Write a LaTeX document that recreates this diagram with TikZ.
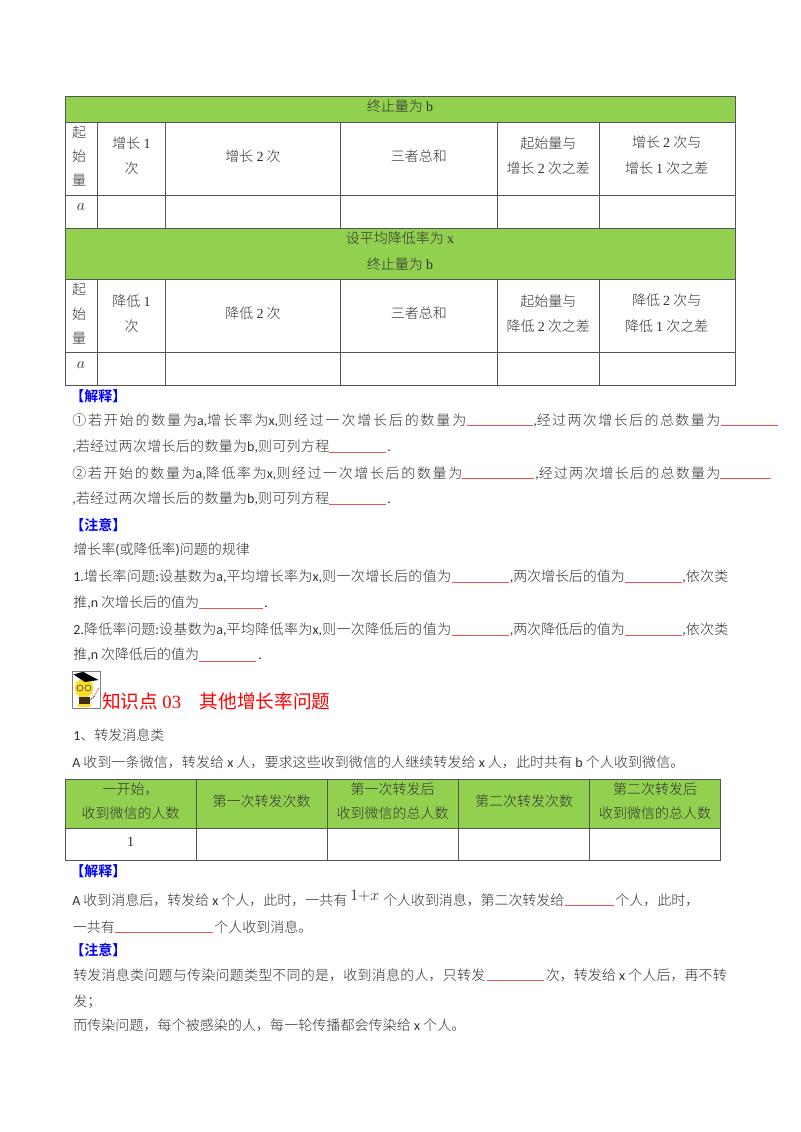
\documentclass[tikz,border=0pt]{standalone}
\usepackage{fontspec}
\setmainfont{Noto Sans CJK SC}[UprightFont=* Light,BoldFont=* Bold]
\newfontfamily\regfont{Noto Sans CJK SC}
\newfontfamily\califont{Carlito}
\newfontfamily\timesfont{Liberation Serif}
\XeTeXlinebreaklocale "zh"
\XeTeXlinebreakskip=0pt plus 4pt minus .3pt
\newcommand{\cb}[1]{{\califont #1}}
\newcommand{\tm}[1]{{\timesfont #1}}
\newcommand{\fit}[2]{\parbox[b]{\dimexpr #1pt*3/4\relax}{\tolerance=9999\hbadness=10000\parfillskip=0pt\relax #2}}
\definecolor{headgreen}{RGB}{146,208,80}
\definecolor{gridgray}{RGB}{85,85,85}
\definecolor{bodygray}{RGB}{50,50,50}
\definecolor{blankred}{RGB}{240,80,80}
\definecolor{faceyellow}{RGB}{250,222,40}
\tikzset{
   ctext/.style={inner sep=0pt,text height=9.3pt,text depth=1.3pt,text=bodygray,font=\fontsize{10.5}{12}\selectfont},
   ltext/.style={ctext,anchor=west},
   tag/.style={ltext,text=blue,font=\fontsize{10.5}{12}\selectfont\bfseries},
   blank/.style={draw=blankred,line width=.75pt},
   rule/.style={draw=gridgray,line width=.75pt},
   bigmath/.style={font=\fontsize{12.5}{14}\selectfont}
}
\begin{document}
\begin{tikzpicture}[x=.75pt,y=-.75pt]
   \useasboundingbox (0,0) rectangle (800,1132);
   \fill[white] (0,0) rectangle (800,1132);
   \fill[headgreen] (65,96) rectangle (735,122);
   \fill[headgreen] (65,228) rectangle (735,279.5);
   \fill[headgreen] (65,779) rectangle (720.5,828);
   \foreach \yy in {96,122,195,228,279.5,352.5,385.5}
      \draw[rule] (65,\yy) -- (735,\yy);
   \foreach \xx in {65,735}
      \draw[rule] (\xx,96) -- (\xx,385.5);
   \foreach \xx in {97.5,165.5,340.5,497.5,599.5} {
      \draw[rule] (\xx,122) -- (\xx,228);
      \draw[rule] (\xx,279.5) -- (\xx,385.5);
   }
   \foreach \yy in {779,828,860.5}
      \draw[rule] (65,\yy) -- (720.5,\yy);
   \foreach \xx in {65,196,327,458.5,589.5,720.5}
      \draw[rule] (\xx,779) -- (\xx,860.5);

   \node[ctext] (endA) at (400,105.7) {终止量为 \tm{b}};
   \node[ctext] (qiA) at (79,131.7) {起};
   \node[ctext] (shiA) at (79,156) {始};
   \node[ctext] (liangA) at (79,180) {量};
   \node[ctext] (upOneA) at (131.5,143.3) {增长 \tm{1}};
   \node[ctext] (upOneB) at (131.5,168.3) {次};
   \node[ctext] (upTwo) at (253,155.7) {增长 \tm{2} 次};
   \node[ctext] (sumA) at (418.8,155.7) {三者总和};
   \node[ctext] (diffA) at (548.3,142.7) {起始量与};
   \node[ctext] (diffB) at (548.3,167.7) {增长 \tm{2} 次之差};
   \node[ctext] (diffC) at (666.7,142.3) {增长 \tm{2} 次与};
   \node[ctext] (diffD) at (666.7,168) {增长 \tm{1} 次之差};
   \node[ctext,bigmath] (startA) at (81,205) {$a$};
   \node[ctext] (rateB) at (400,237.7) {设平均降低率为 \tm{x}};
   \node[ctext] (endB) at (400,263.7) {终止量为 \tm{b}};
   \node[ctext] (qiB) at (79,289) {起};
   \node[ctext] (shiB) at (79,313.7) {始};
   \node[ctext] (liangB) at (79,338.3) {量};
   \node[ctext] (downOneA) at (131.5,301) {降低 \tm{1}};
   \node[ctext] (downOneB) at (131.5,326.3) {次};
   \node[ctext] (downTwo) at (253,313.3) {降低 \tm{2} 次};
   \node[ctext] (sumB) at (418.8,313.3) {三者总和};
   \node[ctext] (diffE) at (548.3,301) {起始量与};
   \node[ctext] (diffF) at (548.3,325.7) {降低 \tm{2} 次之差};
   \node[ctext] (diffG) at (666.7,300.3) {降低 \tm{2} 次与};
   \node[ctext] (diffH) at (666.7,326) {降低 \tm{1} 次之差};
   \node[ctext,bigmath] (startB) at (81,363.6) {$a$};

   \node[tag] (noteA) at (70,395.7) {【解释】};
   \node[ltext] (lineA) at (72,420) {\fit{394}{①若开始的数量为\cb{a,}增长率为\cb{x,}则经过一次增长后的数量为}};
   \node[ltext] (lineAb) at (533,420) {\fit{187}{\cb{,}经过两次增长后的总数量为}};
   \node[ltext] (lineB) at (72,446) {\fit{257}{\cb{,}若经过两次增长后的数量为\cb{b,}则可列方程}};
   \node[ltext] (dotA) at (387,446) {\cb{.}};
   \node[ltext] (lineC) at (72,472.7) {\fit{390}{②若开始的数量为\cb{a,}降低率为\cb{x,}则经过一次增长后的数量为}};
   \node[ltext] (lineCb) at (535,472.7) {\fit{185}{\cb{,}经过两次增长后的总数量为}};
   \node[ltext] (lineD) at (72,498.3) {\fit{257}{\cb{,}若经过两次增长后的数量为\cb{b,}则可列方程}};
   \node[ltext] (dotB) at (387,498.3) {\cb{.}};
   \node[tag] (noteB) at (70,525) {【注意】};
   \node[ltext] (ruleHead) at (73,549.3) {增长率\cb{(}或降低率\cb{)}问题的规律};
   \node[ltext] (ruleA) at (73,576) {\fit{378}{\cb{1.}增长率问题\cb{:}设基数为\cb{a,}平均增长率为\cb{x,}则一次增长后的值为}};
   \node[ltext] (ruleAb) at (509.5,576) {\fit{115}{\cb{,}两次增长后的值为}};
   \node[ltext] (ruleAc) at (682,576) {\fit{46}{\cb{,}依次类}};
   \node[ltext] (ruleB) at (73,602) {推\cb{,n} 次增长后的值为};
   \node[ltext] (dotC) at (264,602) {\cb{.}};
   \node[ltext] (ruleC) at (73,629.3) {\fit{378}{\cb{2.}降低率问题\cb{:}设基数为\cb{a,}平均降低率为\cb{x,}则一次降低后的值为}};
   \node[ltext] (ruleCb) at (509.5,629.3) {\fit{115}{\cb{,}两次降低后的值为}};
   \node[ltext] (ruleCc) at (682,629.3) {\fit{46}{\cb{,}依次类}};
   \node[ltext] (ruleD) at (73,654.3) {推\cb{,n} 次降低后的值为};
   \node[ltext] (dotD) at (258,654.3) {\cb{.}};

   \draw[gray,fill=white,line width=.6pt] (72.7,671.7) rectangle (100.7,708.3);
   \draw[pink!70!red,line width=.6pt] (93,698) -- (99,688);
   \fill[faceyellow] (84,688) circle (9.5);
   \fill[black] (73.5,674.5) -- (83,671.8) -- (98.5,680) -- (85,682) -- cycle;
   \draw[black!70,line width=.5pt] (80,688) circle (3) (88,688) circle (3);
   \fill[black!65!brown] (79,697) rectangle (90,703.5);
   \fill[faceyellow] (78,703.5) rectangle (91,707);
   \draw[black!60,line width=.5pt] (90,700) -- (95,696);

   \node[ltext,text=red,font=\fontsize{14}{16}\selectfont\regfont,text height=12.3pt,text depth=1.7pt] (secTitle) at (102,701.7) {知识点 \tm{03}\hspace{14pt}其他增长率问题};

   \node[ltext] (kindA) at (73,735) {\cb{1}、转发消息类};
   \node[ltext] (askA) at (72,761.7) {\fit{612}{\cb{A} 收到一条微信^^^^ff0c转发给 \cb{x} 人^^^^ff0c要求这些收到微信的人继续转发给 \cb{x} 人^^^^ff0c此时共有 \cb{b} 个人收到微信。}};
   \node[ctext] (headA) at (130.5,789) {一开始^^^^ff0c};
   \node[ctext] (headAb) at (130.5,813.3) {收到微信的人数};
   \node[ctext] (headB) at (261.5,800.7) {第一次转发次数};
   \node[ctext] (headC) at (392.7,789) {第一次转发后};
   \node[ctext] (headCb) at (392.7,813.3) {收到微信的总人数};
   \node[ctext] (headD) at (524,800.7) {第二次转发次数};
   \node[ctext] (headE) at (655,789) {第二次转发后};
   \node[ctext] (headEb) at (655,813.3) {收到微信的总人数};
   \node[ctext] (oneCell) at (130.5,841) {\tm{1}};

   \node[tag] (noteC) at (70,870.7) {【解释】};
   \node[ltext] (ansA) at (72,900) {\fit{275}{\cb{A} 收到消息后^^^^ff0c转发给 \cb{x} 个人^^^^ff0c此时^^^^ff0c一共有}};
   \node[ltext,bigmath] (ansSum) at (350,895.5) {$1{+}x$};
   \node[ltext] (ansAb) at (383,900) {\fit{181}{个人收到消息^^^^ff0c第二次转发给}};
   \node[ltext] (ansAc) at (615,900) {\fit{84}{个人^^^^ff0c此时^^^^ff0c}};
   \node[ltext] (ansB) at (72.7,926.7) {一共有};
   \node[ltext] (ansBb) at (214,926.7) {个人收到消息。};
   \node[tag] (noteD) at (70,950) {【注意】};
   \node[ltext] (tipA) at (73,975) {\fit{412}{转发消息类问题与传染问题类型不同的是^^^^ff0c收到消息的人^^^^ff0c只转发}};
   \node[ltext] (tipAb) at (545.5,975) {\fit{181}{次^^^^ff0c转发给 \cb{x} 个人后^^^^ff0c再不转}};
   \node[ltext] (tipB) at (73,1001) {发^^^^ff1b};
   \node[ltext] (tipC) at (73,1025) {\fit{392}{而传染问题^^^^ff0c每个被感染的人^^^^ff0c每一轮传播都会传染给 \cb{x} 个人。}};

   \foreach \xa/\xb/\yy in {466.7/532.7/425.7,720.7/778/425.7,329.3/386/452.3,462.3/533.7/478.7,720.3/770.7/478.7,329.3/386/504.7,451.7/509.3/582.3,625/682/582.3,199/262.7/608.7,451.7/509.3/635,625/682/635,199/255.7/661,565/614/905.7,115/213.3/932,486.7/544/980.7}
      \draw[blank] (\xa,\yy) -- (\xb,\yy);
\end{tikzpicture}
\end{document}
